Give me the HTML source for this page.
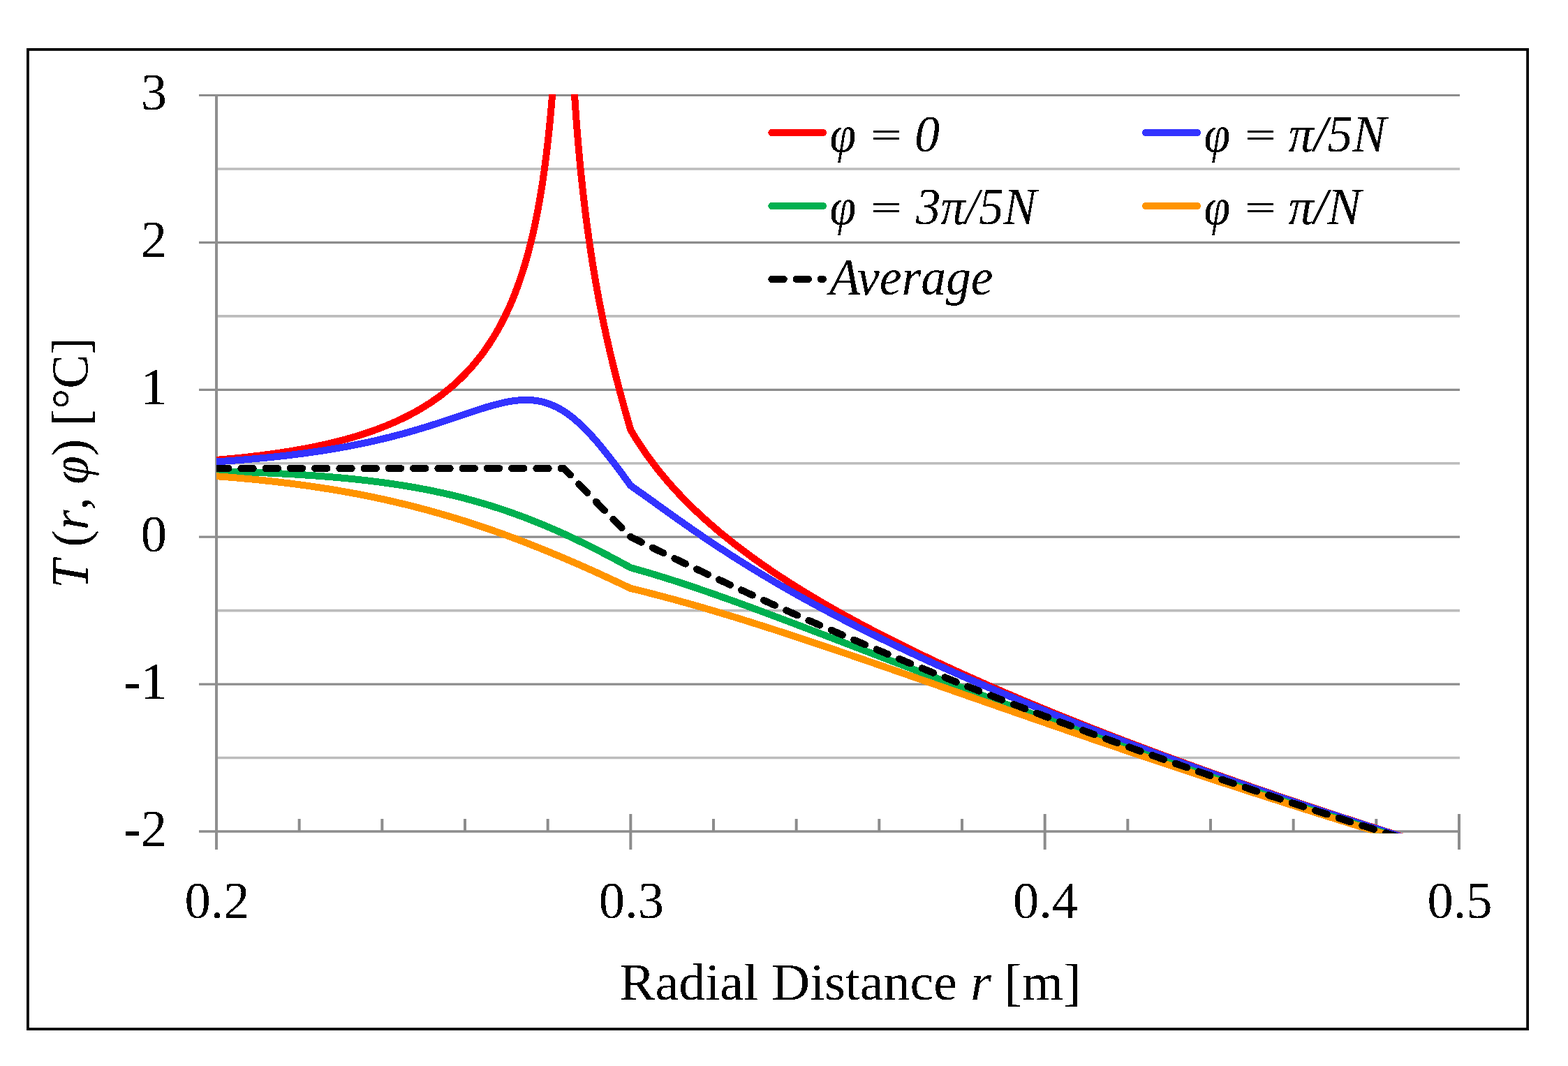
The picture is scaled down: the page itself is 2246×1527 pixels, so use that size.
<!DOCTYPE html><html><head><meta charset="utf-8"><style>html,body{margin:0;padding:0;background:#fff;}svg{display:block}</style></head><body>
<svg width="2246" height="1527" viewBox="0 0 2246 1527">
<rect width="2246" height="1527" fill="#fff"/>
<defs><filter id="bin" x="0" y="0" width="2246" height="1527" filterUnits="userSpaceOnUse" color-interpolation-filters="sRGB"><feComponentTransfer><feFuncA type="discrete" tableValues="0 1"/></feComponentTransfer></filter><clipPath id="pc"><rect x="310" y="135" width="1782" height="1058.5"/></clipPath></defs>
<line x1="310" x2="2091" y1="241.95" y2="241.95" stroke="#bcbcbc" stroke-width="3.6"/>
<line x1="310" x2="2091" y1="452.85" y2="452.85" stroke="#bcbcbc" stroke-width="3.6"/>
<line x1="310" x2="2091" y1="663.75" y2="663.75" stroke="#bcbcbc" stroke-width="3.6"/>
<line x1="310" x2="2091" y1="874.65" y2="874.65" stroke="#bcbcbc" stroke-width="3.6"/>
<line x1="310" x2="2091" y1="1085.55" y2="1085.55" stroke="#bcbcbc" stroke-width="3.6"/>
<line x1="285" x2="2091" y1="136.50" y2="136.50" stroke="#8c8c8c" stroke-width="3.2"/>
<line x1="285" x2="2091" y1="347.40" y2="347.40" stroke="#8c8c8c" stroke-width="3.2"/>
<line x1="285" x2="2091" y1="558.30" y2="558.30" stroke="#8c8c8c" stroke-width="3.2"/>
<line x1="285" x2="2091" y1="769.20" y2="769.20" stroke="#8c8c8c" stroke-width="3.2"/>
<line x1="285" x2="2091" y1="980.10" y2="980.10" stroke="#8c8c8c" stroke-width="3.2"/>
<line x1="285" x2="2092" y1="1191" y2="1191" stroke="#8c8c8c" stroke-width="3.7"/>
<line x1="310" x2="310" y1="135" y2="1217" stroke="#8f8f8f" stroke-width="4"/>
<line x1="428.67" x2="428.67" y1="1173" y2="1191" stroke="#8c8c8c" stroke-width="4"/>
<line x1="547.33" x2="547.33" y1="1173" y2="1191" stroke="#8c8c8c" stroke-width="4"/>
<line x1="666.00" x2="666.00" y1="1173" y2="1191" stroke="#8c8c8c" stroke-width="4"/>
<line x1="784.67" x2="784.67" y1="1173" y2="1191" stroke="#8c8c8c" stroke-width="4"/>
<line x1="903.33" x2="903.33" y1="1166" y2="1217" stroke="#8c8c8c" stroke-width="4"/>
<line x1="1022.00" x2="1022.00" y1="1173" y2="1191" stroke="#8c8c8c" stroke-width="4"/>
<line x1="1140.67" x2="1140.67" y1="1173" y2="1191" stroke="#8c8c8c" stroke-width="4"/>
<line x1="1259.33" x2="1259.33" y1="1173" y2="1191" stroke="#8c8c8c" stroke-width="4"/>
<line x1="1378.00" x2="1378.00" y1="1173" y2="1191" stroke="#8c8c8c" stroke-width="4"/>
<line x1="1496.67" x2="1496.67" y1="1166" y2="1217" stroke="#8c8c8c" stroke-width="4"/>
<line x1="1615.33" x2="1615.33" y1="1173" y2="1191" stroke="#8c8c8c" stroke-width="4"/>
<line x1="1734.00" x2="1734.00" y1="1173" y2="1191" stroke="#8c8c8c" stroke-width="4"/>
<line x1="1852.67" x2="1852.67" y1="1173" y2="1191" stroke="#8c8c8c" stroke-width="4"/>
<line x1="1971.33" x2="1971.33" y1="1173" y2="1191" stroke="#8c8c8c" stroke-width="4"/>
<line x1="2090.00" x2="2090.00" y1="1166" y2="1217" stroke="#8c8c8c" stroke-width="4"/>
<g clip-path="url(#pc)" fill="none" stroke-width="10" stroke-linejoin="round" stroke-linecap="butt" shape-rendering="crispEdges">
<path d="M310.00 658.89 L312.37 658.69 L314.75 658.48 L317.12 658.28 L319.49 658.07 L321.87 657.85 L324.24 657.64 L326.61 657.42 L328.99 657.19 L331.36 656.97 L333.73 656.74 L336.11 656.50 L338.48 656.26 L340.85 656.02 L343.23 655.78 L345.60 655.53 L347.97 655.28 L350.35 655.02 L352.72 654.76 L355.09 654.50 L357.47 654.23 L359.84 653.96 L362.21 653.69 L364.59 653.41 L366.96 653.12 L369.33 652.84 L371.71 652.54 L374.08 652.25 L376.45 651.95 L378.83 651.64 L381.20 651.33 L383.57 651.01 L385.95 650.69 L388.32 650.37 L390.69 650.04 L393.07 649.70 L395.44 649.36 L397.81 649.02 L400.19 648.67 L402.56 648.31 L404.93 647.95 L407.31 647.59 L409.68 647.22 L412.05 646.84 L414.43 646.46 L416.80 646.07 L419.17 645.67 L421.55 645.27 L423.92 644.87 L426.29 644.45 L428.67 644.03 L431.04 643.61 L433.41 643.18 L435.79 642.74 L438.16 642.29 L440.53 641.84 L442.91 641.38 L445.28 640.91 L447.65 640.44 L450.03 639.96 L452.40 639.47 L454.77 638.98 L457.15 638.47 L459.52 637.96 L461.89 637.44 L464.27 636.92 L466.64 636.38 L469.01 635.84 L471.39 635.29 L473.76 634.73 L476.13 634.16 L478.51 633.58 L480.88 633.00 L483.25 632.40 L485.63 631.80 L488.00 631.18 L490.37 630.56 L492.75 629.92 L495.12 629.28 L497.49 628.62 L499.87 627.96 L502.24 627.28 L504.61 626.60 L506.99 625.90 L509.36 625.19 L511.73 624.47 L514.11 623.74 L516.48 623.00 L518.85 622.24 L521.23 621.47 L523.60 620.69 L525.97 619.90 L528.35 619.10 L530.72 618.28 L533.09 617.45 L535.47 616.60 L537.84 615.74 L540.21 614.86 L542.59 613.97 L544.96 613.07 L547.33 612.15 L549.71 611.22 L552.08 610.27 L554.45 609.30 L556.83 608.32 L559.20 607.31 L561.57 606.30 L563.95 605.26 L566.32 604.21 L568.69 603.14 L571.07 602.05 L573.44 600.94 L575.81 599.81 L578.19 598.66 L580.56 597.49 L582.93 596.30 L585.31 595.08 L587.68 593.85 L590.05 592.59 L592.43 591.31 L594.80 590.01 L597.17 588.68 L599.55 587.32 L601.92 585.94 L604.29 584.54 L606.67 583.11 L609.04 581.65 L611.41 580.16 L613.79 578.64 L616.16 577.10 L618.53 575.52 L620.91 573.91 L623.28 572.27 L625.65 570.60 L628.03 568.89 L630.40 567.15 L632.77 565.37 L635.15 563.55 L637.52 561.70 L639.89 559.81 L642.27 557.87 L644.64 555.90 L647.01 553.88 L649.39 551.82 L651.76 549.71 L654.13 547.55 L656.51 545.35 L658.88 543.09 L661.25 540.78 L663.63 538.42 L666.00 536.01 L668.37 533.53 L670.75 530.99 L673.12 528.40 L675.49 525.73 L677.87 523.01 L680.24 520.21 L682.61 517.34 L684.99 514.39 L687.36 511.36 L689.73 508.26 L692.11 505.07 L694.48 501.79 L696.85 498.42 L699.23 494.95 L701.60 491.38 L703.97 487.70 L706.35 483.92 L708.72 480.02 L711.09 475.99 L713.47 471.84 L715.84 467.55 L718.21 463.12 L720.59 458.54 L722.96 453.80 L725.33 448.89 L727.71 443.81 L730.08 438.53 L732.45 433.06 L734.83 427.37 L737.20 421.45 L739.57 415.29 L741.95 408.87 L744.32 402.16 L746.69 395.15 L749.07 387.81 L751.44 380.12 L753.81 372.03 L756.19 363.53 L758.56 354.57 L760.93 345.09 L763.31 335.06 L765.68 324.40 L768.05 313.04 L770.43 300.90 L772.80 287.87 L775.17 273.83 L777.55 258.62 L779.92 242.05 L782.29 223.89 L784.13 208.51 L784.43 205.91 L784.67 203.80 L784.73 203.27 L785.02 200.60 L785.32 197.89 L785.62 195.15 L785.91 192.36 L786.21 189.53 L786.51 186.66 L786.80 183.75 L787.04 181.39 L787.10 180.80 L787.40 177.80 L787.69 174.75 L787.99 171.65 L788.29 168.51 L788.58 165.31 L788.88 162.06 L789.18 158.76 L789.41 156.08 L789.47 155.40 L789.77 151.99 L790.07 148.51 L790.36 144.98 L790.66 141.37 L790.96 137.71 L791.25 133.97 L791.55 130.17 L791.79 127.07 L791.85 126.29 L792.14 122.33 L792.44 118.30 L792.74 114.18 L793.03 109.98 L793.33 105.69 L793.63 101.30 L793.92 96.82 L794.16 93.17 L794.22 92.24 L794.52 87.56 L794.81 82.76 L795.11 77.85 L795.41 72.82 L795.70 67.67 L796.00 62.38 L796.30 56.95 L796.53 52.51 L796.59 51.38 L796.89 45.65 L797.19 39.76 L797.48 33.70 L797.78 27.46 L798.08 21.02 L798.37 14.39 L805.87 -400.00 L809.87 -400.00L816.77 13.07 L817.06 20.58 L817.36 27.86 L817.66 34.92 L817.89 40.42 L817.95 41.78 L818.25 48.44 L818.55 54.92 L818.84 61.23 L819.14 67.38 L819.44 73.38 L819.73 79.23 L820.03 84.94 L820.27 89.41 L820.33 90.51 L820.62 95.97 L820.92 101.30 L821.22 106.52 L821.51 111.62 L821.81 116.62 L822.11 121.53 L822.40 126.33 L822.64 130.11 L822.70 131.05 L823.00 135.67 L823.29 140.21 L823.59 144.67 L823.89 149.04 L824.18 153.35 L824.48 157.57 L824.78 161.73 L825.01 165.01 L825.07 165.82 L825.37 169.85 L825.67 173.81 L825.96 177.70 L826.26 181.54 L826.56 185.32 L826.85 189.05 L827.15 192.72 L827.39 195.62 L827.45 196.34 L827.74 199.91 L828.04 203.43 L828.34 206.90 L828.63 210.32 L828.93 213.70 L829.23 217.03 L829.52 220.33 L829.76 222.93 L829.82 223.58 L830.12 226.79 L830.41 229.96 L830.71 233.09 L831.01 236.19 L831.30 239.25 L831.60 242.27 L832.13 247.63 L834.51 270.20 L836.88 291.02 L839.25 310.36 L841.63 328.44 L844.00 345.43 L846.37 361.48 L848.75 376.70 L851.12 391.18 L853.49 405.01 L855.87 418.26 L858.24 430.99 L860.61 443.24 L862.99 455.06 L865.36 466.48 L867.73 477.55 L870.11 488.30 L872.48 498.74 L874.85 508.91 L877.23 518.82 L879.60 528.50 L881.97 537.96 L884.35 547.22 L886.72 556.30 L889.09 565.20 L891.47 573.95 L893.84 582.55 L896.21 591.02 L898.59 599.36 L900.96 607.59 L903.33 615.71 L903.33 615.71 L905.71 619.72 L908.08 623.64 L910.45 627.47 L912.83 631.23 L915.20 634.92 L917.57 638.53 L919.95 642.08 L922.32 645.55 L924.69 648.97 L927.07 652.32 L929.44 655.62 L931.81 658.86 L934.19 662.05 L936.56 665.18 L938.93 668.27 L941.31 671.31 L943.68 674.30 L946.05 677.24 L948.43 680.15 L950.80 683.01 L953.17 685.83 L955.55 688.61 L957.92 691.36 L960.29 694.07 L962.67 696.74 L965.04 699.38 L967.41 701.99 L969.79 704.56 L972.16 707.11 L974.53 709.62 L976.91 712.10 L979.28 714.56 L981.65 716.99 L984.03 719.39 L986.40 721.76 L988.77 724.11 L991.15 726.43 L993.52 728.73 L995.89 731.01 L998.27 733.26 L1000.64 735.49 L1003.01 737.70 L1005.39 739.89 L1007.76 742.05 L1010.13 744.20 L1012.51 746.33 L1014.88 748.43 L1017.25 750.52 L1019.63 752.59 L1022.00 754.64 L1024.37 756.68 L1026.75 758.70 L1029.12 760.70 L1031.49 762.68 L1033.87 764.65 L1036.24 766.60 L1038.61 768.54 L1040.99 770.46 L1043.36 772.36 L1045.73 774.26 L1048.11 776.13 L1050.48 778.00 L1052.85 779.85 L1055.23 781.69 L1057.60 783.51 L1059.97 785.32 L1062.35 787.12 L1064.72 788.91 L1067.09 790.68 L1069.47 792.44 L1071.84 794.20 L1074.21 795.94 L1076.59 797.66 L1078.96 799.38 L1081.33 801.09 L1083.71 802.78 L1086.08 804.47 L1088.45 806.14 L1090.83 807.81 L1093.20 809.46 L1095.57 811.11 L1097.95 812.74 L1100.32 814.37 L1102.69 815.99 L1105.07 817.60 L1107.44 819.20 L1109.81 820.79 L1112.19 822.37 L1114.56 823.94 L1116.93 825.50 L1119.31 827.06 L1121.68 828.61 L1124.05 830.15 L1126.43 831.68 L1128.80 833.21 L1131.17 834.72 L1133.55 836.23 L1135.92 837.74 L1138.29 839.23 L1140.67 840.72 L1143.04 842.20 L1145.41 843.67 L1147.79 845.14 L1150.16 846.60 L1152.53 848.05 L1154.91 849.50 L1157.28 850.94 L1159.65 852.37 L1162.03 853.80 L1164.40 855.22 L1166.77 856.64 L1169.15 858.04 L1171.52 859.45 L1173.89 860.84 L1176.27 862.24 L1178.64 863.62 L1181.01 865.00 L1183.39 866.38 L1185.76 867.74 L1188.13 869.11 L1190.51 870.47 L1192.88 871.82 L1195.25 873.17 L1197.63 874.51 L1200.00 875.84 L1202.37 877.18 L1204.75 878.50 L1207.12 879.83 L1209.49 881.14 L1211.87 882.46 L1214.24 883.76 L1216.61 885.07 L1218.99 886.36 L1221.36 887.66 L1223.73 888.95 L1226.11 890.23 L1228.48 891.51 L1230.85 892.79 L1233.23 894.06 L1235.60 895.33 L1237.97 896.59 L1240.35 897.85 L1242.72 899.10 L1245.09 900.35 L1247.47 901.60 L1249.84 902.84 L1252.21 904.08 L1254.59 905.32 L1256.96 906.55 L1259.33 907.77 L1261.71 909.00 L1264.08 910.22 L1266.45 911.43 L1268.83 912.64 L1271.20 913.85 L1273.57 915.06 L1275.95 916.26 L1278.32 917.46 L1280.69 918.65 L1283.07 919.84 L1285.44 921.03 L1287.81 922.21 L1290.19 923.39 L1292.56 924.57 L1294.93 925.74 L1297.31 926.92 L1299.68 928.08 L1302.05 929.25 L1304.43 930.41 L1306.80 931.57 L1309.17 932.72 L1311.55 933.87 L1313.92 935.02 L1316.29 936.17 L1318.67 937.31 L1321.04 938.45 L1323.41 939.59 L1325.79 940.72 L1328.16 941.85 L1330.53 942.98 L1332.91 944.11 L1335.28 945.23 L1337.65 946.35 L1340.03 947.47 L1342.40 948.58 L1344.77 949.69 L1347.15 950.80 L1349.52 951.91 L1351.89 953.01 L1354.27 954.11 L1356.64 955.21 L1359.01 956.31 L1361.39 957.40 L1363.76 958.49 L1366.13 959.58 L1368.51 960.66 L1370.88 961.75 L1373.25 962.83 L1375.63 963.91 L1378.00 964.98 L1380.37 966.06 L1382.75 967.13 L1385.12 968.20 L1387.49 969.26 L1389.87 970.33 L1392.24 971.39 L1394.61 972.45 L1396.99 973.51 L1399.36 974.56 L1401.73 975.62 L1404.11 976.67 L1406.48 977.72 L1408.85 978.76 L1411.23 979.81 L1413.60 980.85 L1415.97 981.89 L1418.35 982.93 L1420.72 983.96 L1423.09 985.00 L1425.47 986.03 L1427.84 987.06 L1430.21 988.09 L1432.59 989.11 L1434.96 990.14 L1437.33 991.16 L1439.71 992.18 L1442.08 993.19 L1444.45 994.21 L1446.83 995.22 L1449.20 996.24 L1451.57 997.25 L1453.95 998.25 L1456.32 999.26 L1458.69 1000.26 L1461.07 1001.27 L1463.44 1002.27 L1465.81 1003.27 L1468.19 1004.26 L1470.56 1005.26 L1472.93 1006.25 L1475.31 1007.24 L1477.68 1008.23 L1480.05 1009.22 L1482.43 1010.21 L1484.80 1011.19 L1487.17 1012.17 L1489.55 1013.16 L1491.92 1014.13 L1494.29 1015.11 L1496.67 1016.09 L1499.04 1017.06 L1501.41 1018.04 L1503.79 1019.01 L1506.16 1019.98 L1508.53 1020.94 L1510.91 1021.91 L1513.28 1022.87 L1515.65 1023.84 L1518.03 1024.80 L1520.40 1025.76 L1522.77 1026.72 L1525.15 1027.67 L1527.52 1028.63 L1529.89 1029.58 L1532.27 1030.53 L1534.64 1031.48 L1537.01 1032.43 L1539.39 1033.38 L1541.76 1034.33 L1544.13 1035.27 L1546.51 1036.21 L1548.88 1037.15 L1551.25 1038.09 L1553.63 1039.03 L1556.00 1039.97 L1558.37 1040.90 L1560.75 1041.84 L1563.12 1042.77 L1565.49 1043.70 L1567.87 1044.63 L1570.24 1045.56 L1572.61 1046.49 L1574.99 1047.41 L1577.36 1048.34 L1579.73 1049.26 L1582.11 1050.18 L1584.48 1051.10 L1586.85 1052.02 L1589.23 1052.94 L1591.60 1053.85 L1593.97 1054.77 L1596.35 1055.68 L1598.72 1056.59 L1601.09 1057.51 L1603.47 1058.41 L1605.84 1059.32 L1608.21 1060.23 L1610.59 1061.14 L1612.96 1062.04 L1615.33 1062.94 L1617.71 1063.84 L1620.08 1064.74 L1622.45 1065.64 L1624.83 1066.54 L1627.20 1067.44 L1629.57 1068.33 L1631.95 1069.23 L1634.32 1070.12 L1636.69 1071.01 L1639.07 1071.90 L1641.44 1072.79 L1643.81 1073.68 L1646.19 1074.57 L1648.56 1075.45 L1650.93 1076.34 L1653.31 1077.22 L1655.68 1078.10 L1658.05 1078.99 L1660.43 1079.86 L1662.80 1080.74 L1665.17 1081.62 L1667.55 1082.50 L1669.92 1083.37 L1672.29 1084.25 L1674.67 1085.12 L1677.04 1085.99 L1679.41 1086.86 L1681.79 1087.73 L1684.16 1088.60 L1686.53 1089.47 L1688.91 1090.33 L1691.28 1091.20 L1693.65 1092.06 L1696.03 1092.93 L1698.40 1093.79 L1700.77 1094.65 L1703.15 1095.51 L1705.52 1096.37 L1707.89 1097.22 L1710.27 1098.08 L1712.64 1098.94 L1715.01 1099.79 L1717.39 1100.64 L1719.76 1101.50 L1722.13 1102.35 L1724.51 1103.20 L1726.88 1104.05 L1729.25 1104.90 L1731.63 1105.74 L1734.00 1106.59 L1736.37 1107.43 L1738.75 1108.28 L1741.12 1109.12 L1743.49 1109.96 L1745.87 1110.80 L1748.24 1111.64 L1750.61 1112.48 L1752.99 1113.32 L1755.36 1114.16 L1757.73 1114.99 L1760.11 1115.83 L1762.48 1116.66 L1764.85 1117.50 L1767.23 1118.33 L1769.60 1119.16 L1771.97 1119.99 L1774.35 1120.82 L1776.72 1121.65 L1779.09 1122.47 L1781.47 1123.30 L1783.84 1124.13 L1786.21 1124.95 L1788.59 1125.77 L1790.96 1126.60 L1793.33 1127.42 L1795.71 1128.24 L1798.08 1129.06 L1800.45 1129.88 L1802.83 1130.70 L1805.20 1131.51 L1807.57 1132.33 L1809.95 1133.15 L1812.32 1133.96 L1814.69 1134.77 L1817.07 1135.59 L1819.44 1136.40 L1821.81 1137.21 L1824.19 1138.02 L1826.56 1138.83 L1828.93 1139.63 L1831.31 1140.44 L1833.68 1141.25 L1836.05 1142.05 L1838.43 1142.86 L1840.80 1143.66 L1843.17 1144.47 L1845.55 1145.27 L1847.92 1146.07 L1850.29 1146.87 L1852.67 1147.67 L1855.04 1148.47 L1857.41 1149.26 L1859.79 1150.06 L1862.16 1150.86 L1864.53 1151.65 L1866.91 1152.45 L1869.28 1153.24 L1871.65 1154.03 L1874.03 1154.82 L1876.40 1155.62 L1878.77 1156.41 L1881.15 1157.20 L1883.52 1157.98 L1885.89 1158.77 L1888.27 1159.56 L1890.64 1160.34 L1893.01 1161.13 L1895.39 1161.91 L1897.76 1162.70 L1900.13 1163.48 L1902.51 1164.26 L1904.88 1165.04 L1907.25 1165.82 L1909.63 1166.60 L1912.00 1167.38 L1914.37 1168.16 L1916.75 1168.94 L1919.12 1169.72 L1921.49 1170.49 L1923.87 1171.27 L1926.24 1172.04 L1928.61 1172.81 L1930.99 1173.59 L1933.36 1174.36 L1935.73 1175.13 L1938.11 1175.90 L1940.48 1176.67 L1942.85 1177.44 L1945.23 1178.21 L1947.60 1178.97 L1949.97 1179.74 L1952.35 1180.51 L1954.72 1181.27 L1957.09 1182.04 L1959.47 1182.80 L1961.84 1183.56 L1964.21 1184.32 L1966.59 1185.08 L1968.96 1185.85 L1971.33 1186.61 L1973.71 1187.36 L1976.08 1188.12 L1978.45 1188.88 L1980.83 1189.64 L1983.20 1190.39 L1985.57 1191.15 L1987.95 1191.90 L1990.32 1192.66 L1992.69 1193.41 L1995.07 1194.16 L1997.44 1194.92 L1999.81 1195.67 L2002.19 1196.42 L2004.56 1197.17 L2006.93 1197.92 L2009.31 1198.66 L2011.68 1199.41 L2014.05 1200.16 L2016.43 1200.90 L2018.80 1201.65 L2021.17 1202.39 L2023.55 1203.14 L2025.92 1203.88 L2028.29 1204.63 L2030.67 1205.37 L2033.04 1206.11 L2035.41 1206.85 L2037.79 1207.59 L2040.16 1208.33 L2042.53 1209.07 L2044.91 1209.80 L2047.28 1210.54 L2049.65 1211.28 L2052.03 1212.01 L2054.40 1212.75 L2056.77 1213.48 L2059.15 1214.22 L2061.52 1214.95 L2063.89 1215.68 L2066.27 1216.42 L2068.64 1217.15 L2071.01 1217.88 L2073.39 1218.61 L2075.76 1219.34 L2078.13 1220.07 L2080.51 1220.79 L2082.88 1221.52 L2085.25 1222.25 L2087.63 1222.97 L2090.00 1223.70" stroke="#FF0000"/>
<path d="M310.00 661.40 L312.37 661.24 L314.75 661.09 L317.12 660.93 L319.49 660.76 L321.87 660.60 L324.24 660.43 L326.61 660.26 L328.99 660.09 L331.36 659.92 L333.73 659.74 L336.11 659.56 L338.48 659.38 L340.85 659.20 L343.23 659.01 L345.60 658.82 L347.97 658.63 L350.35 658.43 L352.72 658.24 L355.09 658.04 L357.47 657.83 L359.84 657.63 L362.21 657.42 L364.59 657.21 L366.96 656.99 L369.33 656.78 L371.71 656.56 L374.08 656.33 L376.45 656.11 L378.83 655.88 L381.20 655.64 L383.57 655.41 L385.95 655.17 L388.32 654.93 L390.69 654.68 L393.07 654.43 L395.44 654.18 L397.81 653.92 L400.19 653.66 L402.56 653.40 L404.93 653.13 L407.31 652.86 L409.68 652.59 L412.05 652.31 L414.43 652.03 L416.80 651.74 L419.17 651.46 L421.55 651.16 L423.92 650.87 L426.29 650.57 L428.67 650.26 L431.04 649.95 L433.41 649.64 L435.79 649.32 L438.16 649.00 L440.53 648.68 L442.91 648.35 L445.28 648.02 L447.65 647.68 L450.03 647.34 L452.40 646.99 L454.77 646.64 L457.15 646.28 L459.52 645.92 L461.89 645.56 L464.27 645.19 L466.64 644.81 L469.01 644.43 L471.39 644.05 L473.76 643.66 L476.13 643.26 L478.51 642.87 L480.88 642.46 L483.25 642.05 L485.63 641.64 L488.00 641.22 L490.37 640.79 L492.75 640.36 L495.12 639.93 L497.49 639.49 L499.87 639.04 L502.24 638.59 L504.61 638.13 L506.99 637.67 L509.36 637.20 L511.73 636.73 L514.11 636.25 L516.48 635.76 L518.85 635.27 L521.23 634.77 L523.60 634.27 L525.97 633.76 L528.35 633.25 L530.72 632.73 L533.09 632.20 L535.47 631.67 L537.84 631.13 L540.21 630.58 L542.59 630.03 L544.96 629.47 L547.33 628.91 L549.71 628.34 L552.08 627.76 L554.45 627.18 L556.83 626.59 L559.20 625.99 L561.57 625.39 L563.95 624.78 L566.32 624.17 L568.69 623.54 L571.07 622.92 L573.44 622.28 L575.81 621.64 L578.19 620.99 L580.56 620.34 L582.93 619.68 L585.31 619.01 L587.68 618.34 L590.05 617.66 L592.43 616.98 L594.80 616.29 L597.17 615.59 L599.55 614.88 L601.92 614.17 L604.29 613.46 L606.67 612.74 L609.04 612.01 L611.41 611.28 L613.79 610.54 L616.16 609.79 L618.53 609.04 L620.91 608.29 L623.28 607.53 L625.65 606.77 L628.03 606.00 L630.40 605.23 L632.77 604.45 L635.15 603.67 L637.52 602.88 L639.89 602.09 L642.27 601.30 L644.64 600.51 L647.01 599.71 L649.39 598.92 L651.76 598.12 L654.13 597.31 L656.51 596.51 L658.88 595.71 L661.25 594.91 L663.63 594.10 L666.00 593.30 L668.37 592.51 L670.75 591.71 L673.12 590.91 L675.49 590.12 L677.87 589.34 L680.24 588.56 L682.61 587.78 L684.99 587.01 L687.36 586.25 L689.73 585.50 L692.11 584.76 L694.48 584.03 L696.85 583.31 L699.23 582.60 L701.60 581.90 L703.97 581.22 L706.35 580.56 L708.72 579.91 L711.09 579.29 L713.47 578.68 L715.84 578.09 L718.21 577.53 L720.59 576.99 L722.96 576.48 L725.33 575.99 L727.71 575.53 L730.08 575.11 L732.45 574.71 L734.83 574.36 L737.20 574.03 L739.57 573.75 L741.95 573.50 L744.32 573.30 L746.69 573.14 L749.07 573.03 L751.44 572.96 L753.81 572.94 L756.19 572.97 L758.56 573.06 L760.93 573.20 L763.31 573.39 L765.68 573.65 L768.05 573.96 L770.43 574.34 L772.80 574.78 L775.17 575.28 L777.55 575.85 L779.92 576.48 L782.29 577.19 L784.13 577.78 L784.43 577.88 L784.67 577.96 L784.73 577.98 L785.02 578.08 L785.32 578.19 L785.62 578.29 L785.91 578.40 L786.21 578.50 L786.51 578.61 L786.80 578.72 L787.04 578.81 L787.10 578.83 L787.40 578.94 L787.69 579.05 L787.99 579.16 L788.29 579.28 L788.58 579.39 L788.88 579.51 L789.18 579.63 L789.41 579.72 L789.47 579.74 L789.77 579.86 L790.07 579.99 L790.36 580.11 L790.66 580.23 L790.96 580.36 L791.25 580.48 L791.55 580.61 L791.79 580.71 L791.85 580.73 L792.14 580.86 L792.44 580.99 L792.74 581.12 L793.03 581.26 L793.33 581.39 L793.63 581.52 L793.92 581.66 L794.16 581.77 L794.22 581.80 L794.52 581.94 L794.81 582.07 L795.11 582.21 L795.41 582.36 L795.70 582.50 L796.00 582.64 L796.30 582.79 L796.53 582.90 L796.59 582.93 L796.89 583.08 L797.19 583.23 L797.48 583.38 L797.78 583.53 L798.08 583.68 L798.37 583.83 L798.67 583.99 L798.91 584.11 L798.97 584.14 L799.26 584.30 L799.56 584.46 L799.86 584.62 L800.15 584.78 L800.45 584.94 L800.75 585.10 L801.04 585.26 L801.28 585.39 L801.34 585.43 L801.64 585.59 L801.93 585.76 L802.23 585.93 L802.53 586.10 L802.82 586.27 L803.12 586.44 L803.42 586.61 L803.65 586.75 L803.71 586.79 L804.01 586.96 L804.31 587.14 L804.60 587.31 L804.90 587.49 L805.20 587.67 L805.49 587.85 L805.79 588.03 L806.03 588.18 L806.09 588.22 L806.38 588.40 L806.68 588.58 L806.98 588.76 L807.27 588.93 L807.57 589.07 L807.87 589.16 L808.16 589.45 L808.40 589.64 L808.46 589.69 L808.76 589.90 L809.05 590.10 L809.35 590.30 L809.65 590.50 L809.94 590.70 L810.24 590.90 L810.54 591.10 L810.77 591.26 L810.83 591.30 L811.13 591.51 L811.43 591.71 L811.72 591.91 L812.02 592.12 L812.32 592.33 L812.61 592.54 L812.91 592.74 L813.15 592.91 L813.21 592.96 L813.50 593.17 L813.80 593.38 L814.10 593.59 L814.39 593.81 L814.69 594.02 L814.99 594.24 L815.28 594.46 L815.52 594.64 L815.58 594.68 L815.88 594.90 L816.17 595.12 L816.47 595.35 L816.77 595.57 L817.06 595.79 L817.36 596.02 L817.66 596.25 L817.89 596.43 L817.95 596.48 L818.25 596.71 L818.55 596.94 L818.84 597.17 L819.14 597.40 L819.44 597.64 L819.73 597.87 L820.03 598.11 L820.27 598.30 L820.33 598.34 L820.62 598.58 L820.92 598.82 L821.22 599.06 L821.51 599.30 L821.81 599.55 L822.11 599.79 L822.40 600.04 L822.64 600.23 L822.70 600.28 L823.00 600.53 L823.29 600.78 L823.59 601.03 L823.89 601.28 L824.18 601.53 L824.48 601.78 L824.78 602.03 L825.01 602.24 L825.07 602.29 L825.37 602.54 L825.67 602.80 L825.96 603.06 L826.26 603.32 L826.56 603.58 L826.85 603.84 L827.15 604.10 L827.39 604.31 L827.45 604.36 L827.74 604.63 L828.04 604.89 L828.34 605.16 L828.63 605.42 L828.93 605.69 L829.23 605.96 L829.52 606.23 L829.76 606.45 L829.82 606.50 L830.12 606.78 L830.41 607.05 L830.71 607.32 L831.01 607.60 L831.30 607.87 L831.60 608.15 L832.13 608.65 L834.51 610.92 L836.88 613.25 L839.25 615.64 L841.63 618.08 L844.00 620.58 L846.37 623.14 L848.75 625.75 L851.12 628.41 L853.49 631.12 L855.87 633.88 L858.24 636.68 L860.61 639.52 L862.99 642.41 L865.36 645.33 L867.73 648.29 L870.11 651.28 L872.48 654.30 L874.85 657.36 L877.23 660.44 L879.60 663.55 L881.97 666.69 L884.35 669.84 L886.72 673.02 L889.09 676.22 L891.47 679.43 L893.84 682.66 L896.21 685.90 L898.59 689.15 L900.96 692.41 L903.33 695.68 L903.33 695.68 L905.71 697.33 L908.08 698.99 L910.45 700.65 L912.83 702.32 L915.20 704.00 L917.57 705.68 L919.95 707.37 L922.32 709.06 L924.69 710.76 L927.07 712.45 L929.44 714.15 L931.81 715.86 L934.19 717.56 L936.56 719.26 L938.93 720.97 L941.31 722.67 L943.68 724.38 L946.05 726.08 L948.43 727.78 L950.80 729.49 L953.17 731.19 L955.55 732.88 L957.92 734.58 L960.29 736.27 L962.67 737.97 L965.04 739.65 L967.41 741.34 L969.79 743.02 L972.16 744.70 L974.53 746.37 L976.91 748.05 L979.28 749.71 L981.65 751.38 L984.03 753.03 L986.40 754.69 L988.77 756.34 L991.15 757.98 L993.52 759.63 L995.89 761.26 L998.27 762.89 L1000.64 764.52 L1003.01 766.14 L1005.39 767.76 L1007.76 769.37 L1010.13 770.97 L1012.51 772.58 L1014.88 774.17 L1017.25 775.76 L1019.63 777.35 L1022.00 778.93 L1024.37 780.50 L1026.75 782.07 L1029.12 783.64 L1031.49 785.20 L1033.87 786.75 L1036.24 788.30 L1038.61 789.84 L1040.99 791.38 L1043.36 792.91 L1045.73 794.44 L1048.11 795.96 L1050.48 797.48 L1052.85 798.99 L1055.23 800.50 L1057.60 802.00 L1059.97 803.49 L1062.35 804.98 L1064.72 806.47 L1067.09 807.95 L1069.47 809.42 L1071.84 810.89 L1074.21 812.36 L1076.59 813.82 L1078.96 815.27 L1081.33 816.72 L1083.71 818.17 L1086.08 819.61 L1088.45 821.04 L1090.83 822.47 L1093.20 823.90 L1095.57 825.32 L1097.95 826.73 L1100.32 828.14 L1102.69 829.55 L1105.07 830.95 L1107.44 832.34 L1109.81 833.74 L1112.19 835.12 L1114.56 836.51 L1116.93 837.88 L1119.31 839.26 L1121.68 840.63 L1124.05 841.99 L1126.43 843.35 L1128.80 844.71 L1131.17 846.06 L1133.55 847.40 L1135.92 848.75 L1138.29 850.09 L1140.67 851.42 L1143.04 852.75 L1145.41 854.08 L1147.79 855.40 L1150.16 856.72 L1152.53 858.03 L1154.91 859.34 L1157.28 860.64 L1159.65 861.95 L1162.03 863.24 L1164.40 864.54 L1166.77 865.83 L1169.15 867.11 L1171.52 868.40 L1173.89 869.67 L1176.27 870.95 L1178.64 872.22 L1181.01 873.49 L1183.39 874.75 L1185.76 876.01 L1188.13 877.27 L1190.51 878.52 L1192.88 879.77 L1195.25 881.02 L1197.63 882.26 L1200.00 883.50 L1202.37 884.73 L1204.75 885.97 L1207.12 887.20 L1209.49 888.42 L1211.87 889.64 L1214.24 890.86 L1216.61 892.08 L1218.99 893.29 L1221.36 894.50 L1223.73 895.70 L1226.11 896.91 L1228.48 898.11 L1230.85 899.30 L1233.23 900.50 L1235.60 901.69 L1237.97 902.88 L1240.35 904.06 L1242.72 905.24 L1245.09 906.42 L1247.47 907.59 L1249.84 908.77 L1252.21 909.94 L1254.59 911.10 L1256.96 912.27 L1259.33 913.43 L1261.71 914.59 L1264.08 915.74 L1266.45 916.89 L1268.83 918.04 L1271.20 919.19 L1273.57 920.34 L1275.95 921.48 L1278.32 922.62 L1280.69 923.75 L1283.07 924.89 L1285.44 926.02 L1287.81 927.15 L1290.19 928.27 L1292.56 929.40 L1294.93 930.52 L1297.31 931.64 L1299.68 932.75 L1302.05 933.87 L1304.43 934.98 L1306.80 936.09 L1309.17 937.19 L1311.55 938.30 L1313.92 939.40 L1316.29 940.50 L1318.67 941.59 L1321.04 942.69 L1323.41 943.78 L1325.79 944.87 L1328.16 945.96 L1330.53 947.04 L1332.91 948.12 L1335.28 949.21 L1337.65 950.28 L1340.03 951.36 L1342.40 952.43 L1344.77 953.51 L1347.15 954.58 L1349.52 955.64 L1351.89 956.71 L1354.27 957.77 L1356.64 958.83 L1359.01 959.89 L1361.39 960.95 L1363.76 962.00 L1366.13 963.06 L1368.51 964.11 L1370.88 965.16 L1373.25 966.20 L1375.63 967.25 L1378.00 968.29 L1380.37 969.33 L1382.75 970.37 L1385.12 971.41 L1387.49 972.44 L1389.87 973.48 L1392.24 974.51 L1394.61 975.54 L1396.99 976.56 L1399.36 977.59 L1401.73 978.61 L1404.11 979.63 L1406.48 980.65 L1408.85 981.67 L1411.23 982.69 L1413.60 983.70 L1415.97 984.72 L1418.35 985.73 L1420.72 986.74 L1423.09 987.74 L1425.47 988.75 L1427.84 989.75 L1430.21 990.75 L1432.59 991.75 L1434.96 992.75 L1437.33 993.75 L1439.71 994.75 L1442.08 995.74 L1444.45 996.73 L1446.83 997.72 L1449.20 998.71 L1451.57 999.70 L1453.95 1000.68 L1456.32 1001.67 L1458.69 1002.65 L1461.07 1003.63 L1463.44 1004.61 L1465.81 1005.58 L1468.19 1006.56 L1470.56 1007.53 L1472.93 1008.51 L1475.31 1009.48 L1477.68 1010.45 L1480.05 1011.42 L1482.43 1012.38 L1484.80 1013.35 L1487.17 1014.31 L1489.55 1015.27 L1491.92 1016.23 L1494.29 1017.19 L1496.67 1018.15 L1499.04 1019.10 L1501.41 1020.06 L1503.79 1021.01 L1506.16 1021.96 L1508.53 1022.91 L1510.91 1023.86 L1513.28 1024.81 L1515.65 1025.76 L1518.03 1026.70 L1520.40 1027.64 L1522.77 1028.58 L1525.15 1029.52 L1527.52 1030.46 L1529.89 1031.40 L1532.27 1032.34 L1534.64 1033.27 L1537.01 1034.21 L1539.39 1035.14 L1541.76 1036.07 L1544.13 1037.00 L1546.51 1037.93 L1548.88 1038.85 L1551.25 1039.78 L1553.63 1040.70 L1556.00 1041.62 L1558.37 1042.55 L1560.75 1043.47 L1563.12 1044.38 L1565.49 1045.30 L1567.87 1046.22 L1570.24 1047.13 L1572.61 1048.05 L1574.99 1048.96 L1577.36 1049.87 L1579.73 1050.78 L1582.11 1051.69 L1584.48 1052.60 L1586.85 1053.50 L1589.23 1054.41 L1591.60 1055.31 L1593.97 1056.21 L1596.35 1057.12 L1598.72 1058.02 L1601.09 1058.91 L1603.47 1059.81 L1605.84 1060.71 L1608.21 1061.60 L1610.59 1062.50 L1612.96 1063.39 L1615.33 1064.28 L1617.71 1065.17 L1620.08 1066.06 L1622.45 1066.95 L1624.83 1067.84 L1627.20 1068.73 L1629.57 1069.61 L1631.95 1070.49 L1634.32 1071.38 L1636.69 1072.26 L1639.07 1073.14 L1641.44 1074.02 L1643.81 1074.90 L1646.19 1075.77 L1648.56 1076.65 L1650.93 1077.53 L1653.31 1078.40 L1655.68 1079.27 L1658.05 1080.14 L1660.43 1081.01 L1662.80 1081.88 L1665.17 1082.75 L1667.55 1083.62 L1669.92 1084.49 L1672.29 1085.35 L1674.67 1086.22 L1677.04 1087.08 L1679.41 1087.94 L1681.79 1088.80 L1684.16 1089.66 L1686.53 1090.52 L1688.91 1091.38 L1691.28 1092.24 L1693.65 1093.09 L1696.03 1093.95 L1698.40 1094.80 L1700.77 1095.65 L1703.15 1096.51 L1705.52 1097.36 L1707.89 1098.21 L1710.27 1099.06 L1712.64 1099.90 L1715.01 1100.75 L1717.39 1101.60 L1719.76 1102.44 L1722.13 1103.28 L1724.51 1104.13 L1726.88 1104.97 L1729.25 1105.81 L1731.63 1106.65 L1734.00 1107.49 L1736.37 1108.33 L1738.75 1109.17 L1741.12 1110.00 L1743.49 1110.84 L1745.87 1111.67 L1748.24 1112.50 L1750.61 1113.34 L1752.99 1114.17 L1755.36 1115.00 L1757.73 1115.83 L1760.11 1116.66 L1762.48 1117.49 L1764.85 1118.31 L1767.23 1119.14 L1769.60 1119.96 L1771.97 1120.79 L1774.35 1121.61 L1776.72 1122.43 L1779.09 1123.26 L1781.47 1124.08 L1783.84 1124.90 L1786.21 1125.71 L1788.59 1126.53 L1790.96 1127.35 L1793.33 1128.17 L1795.71 1128.98 L1798.08 1129.79 L1800.45 1130.61 L1802.83 1131.42 L1805.20 1132.23 L1807.57 1133.04 L1809.95 1133.85 L1812.32 1134.66 L1814.69 1135.47 L1817.07 1136.28 L1819.44 1137.09 L1821.81 1137.89 L1824.19 1138.70 L1826.56 1139.50 L1828.93 1140.30 L1831.31 1141.11 L1833.68 1141.91 L1836.05 1142.71 L1838.43 1143.51 L1840.80 1144.31 L1843.17 1145.10 L1845.55 1145.90 L1847.92 1146.70 L1850.29 1147.49 L1852.67 1148.29 L1855.04 1149.08 L1857.41 1149.88 L1859.79 1150.67 L1862.16 1151.46 L1864.53 1152.25 L1866.91 1153.04 L1869.28 1153.83 L1871.65 1154.62 L1874.03 1155.41 L1876.40 1156.19 L1878.77 1156.98 L1881.15 1157.77 L1883.52 1158.55 L1885.89 1159.33 L1888.27 1160.12 L1890.64 1160.90 L1893.01 1161.68 L1895.39 1162.46 L1897.76 1163.24 L1900.13 1164.02 L1902.51 1164.80 L1904.88 1165.58 L1907.25 1166.35 L1909.63 1167.13 L1912.00 1167.90 L1914.37 1168.68 L1916.75 1169.45 L1919.12 1170.22 L1921.49 1171.00 L1923.87 1171.77 L1926.24 1172.54 L1928.61 1173.31 L1930.99 1174.08 L1933.36 1174.85 L1935.73 1175.61 L1938.11 1176.38 L1940.48 1177.15 L1942.85 1177.91 L1945.23 1178.68 L1947.60 1179.44 L1949.97 1180.21 L1952.35 1180.97 L1954.72 1181.73 L1957.09 1182.49 L1959.47 1183.25 L1961.84 1184.01 L1964.21 1184.77 L1966.59 1185.53 L1968.96 1186.29 L1971.33 1187.04 L1973.71 1187.80 L1976.08 1188.55 L1978.45 1189.31 L1980.83 1190.06 L1983.20 1190.82 L1985.57 1191.57 L1987.95 1192.32 L1990.32 1193.07 L1992.69 1193.82 L1995.07 1194.57 L1997.44 1195.32 L1999.81 1196.07 L2002.19 1196.82 L2004.56 1197.56 L2006.93 1198.31 L2009.31 1199.06 L2011.68 1199.80 L2014.05 1200.55 L2016.43 1201.29 L2018.80 1202.03 L2021.17 1202.77 L2023.55 1203.52 L2025.92 1204.26 L2028.29 1205.00 L2030.67 1205.74 L2033.04 1206.48 L2035.41 1207.21 L2037.79 1207.95 L2040.16 1208.69 L2042.53 1209.42 L2044.91 1210.16 L2047.28 1210.89 L2049.65 1211.63 L2052.03 1212.36 L2054.40 1213.10 L2056.77 1213.83 L2059.15 1214.56 L2061.52 1215.29 L2063.89 1216.02 L2066.27 1216.75 L2068.64 1217.48 L2071.01 1218.21 L2073.39 1218.94 L2075.76 1219.66 L2078.13 1220.39 L2080.51 1221.11 L2082.88 1221.84 L2085.25 1222.56 L2087.63 1223.29 L2090.00 1224.01" stroke="#3333FF"/>
<path d="M310.00 674.82 L312.37 674.89 L314.75 674.96 L317.12 675.03 L319.49 675.10 L321.87 675.17 L324.24 675.24 L326.61 675.32 L328.99 675.39 L331.36 675.47 L333.73 675.55 L336.11 675.63 L338.48 675.71 L340.85 675.79 L343.23 675.87 L345.60 675.96 L347.97 676.04 L350.35 676.13 L352.72 676.22 L355.09 676.31 L357.47 676.40 L359.84 676.49 L362.21 676.59 L364.59 676.68 L366.96 676.78 L369.33 676.88 L371.71 676.98 L374.08 677.08 L376.45 677.18 L378.83 677.29 L381.20 677.40 L383.57 677.51 L385.95 677.62 L388.32 677.73 L390.69 677.84 L393.07 677.96 L395.44 678.08 L397.81 678.20 L400.19 678.32 L402.56 678.44 L404.93 678.57 L407.31 678.69 L409.68 678.82 L412.05 678.96 L414.43 679.09 L416.80 679.23 L419.17 679.36 L421.55 679.50 L423.92 679.65 L426.29 679.79 L428.67 679.94 L431.04 680.09 L433.41 680.24 L435.79 680.39 L438.16 680.55 L440.53 680.71 L442.91 680.87 L445.28 681.03 L447.65 681.20 L450.03 681.37 L452.40 681.54 L454.77 681.71 L457.15 681.89 L459.52 682.07 L461.89 682.25 L464.27 682.44 L466.64 682.63 L469.01 682.82 L471.39 683.01 L473.76 683.21 L476.13 683.41 L478.51 683.62 L480.88 683.82 L483.25 684.03 L485.63 684.25 L488.00 684.46 L490.37 684.68 L492.75 684.91 L495.12 685.13 L497.49 685.36 L499.87 685.60 L502.24 685.83 L504.61 686.07 L506.99 686.32 L509.36 686.57 L511.73 686.82 L514.11 687.08 L516.48 687.34 L518.85 687.60 L521.23 687.87 L523.60 688.14 L525.97 688.41 L528.35 688.69 L530.72 688.98 L533.09 689.27 L535.47 689.56 L537.84 689.86 L540.21 690.16 L542.59 690.46 L544.96 690.78 L547.33 691.09 L549.71 691.41 L552.08 691.73 L554.45 692.06 L556.83 692.40 L559.20 692.74 L561.57 693.08 L563.95 693.43 L566.32 693.78 L568.69 694.14 L571.07 694.51 L573.44 694.88 L575.81 695.25 L578.19 695.63 L580.56 696.01 L582.93 696.41 L585.31 696.80 L587.68 697.20 L590.05 697.61 L592.43 698.02 L594.80 698.44 L597.17 698.87 L599.55 699.30 L601.92 699.73 L604.29 700.18 L606.67 700.63 L609.04 701.08 L611.41 701.54 L613.79 702.01 L616.16 702.48 L618.53 702.96 L620.91 703.45 L623.28 703.94 L625.65 704.44 L628.03 704.94 L630.40 705.45 L632.77 705.97 L635.15 706.50 L637.52 707.03 L639.89 707.57 L642.27 708.11 L644.64 708.67 L647.01 709.23 L649.39 709.79 L651.76 710.36 L654.13 710.95 L656.51 711.53 L658.88 712.13 L661.25 712.73 L663.63 713.34 L666.00 713.96 L668.37 714.58 L670.75 715.21 L673.12 715.85 L675.49 716.50 L677.87 717.15 L680.24 717.81 L682.61 718.48 L684.99 719.16 L687.36 719.84 L689.73 720.53 L692.11 721.23 L694.48 721.94 L696.85 722.65 L699.23 723.38 L701.60 724.11 L703.97 724.84 L706.35 725.59 L708.72 726.34 L711.09 727.11 L713.47 727.88 L715.84 728.65 L718.21 729.44 L720.59 730.23 L722.96 731.03 L725.33 731.84 L727.71 732.66 L730.08 733.48 L732.45 734.32 L734.83 735.16 L737.20 736.01 L739.57 736.86 L741.95 737.73 L744.32 738.60 L746.69 739.48 L749.07 740.37 L751.44 741.27 L753.81 742.17 L756.19 743.08 L758.56 744.00 L760.93 744.93 L763.31 745.87 L765.68 746.81 L768.05 747.76 L770.43 748.72 L772.80 749.69 L775.17 750.66 L777.55 751.64 L779.92 752.63 L782.29 753.63 L784.13 754.41 L784.43 754.53 L784.67 754.63 L784.73 754.66 L785.02 754.78 L785.32 754.91 L785.62 755.04 L785.91 755.16 L786.21 755.29 L786.51 755.42 L786.80 755.54 L787.04 755.65 L787.10 755.67 L787.40 755.80 L787.69 755.92 L787.99 756.05 L788.29 756.18 L788.58 756.31 L788.88 756.43 L789.18 756.56 L789.41 756.66 L789.47 756.69 L789.77 756.82 L790.07 756.95 L790.36 757.07 L790.66 757.20 L790.96 757.33 L791.25 757.46 L791.55 757.59 L791.79 757.69 L791.85 757.72 L792.14 757.85 L792.44 757.98 L792.74 758.10 L793.03 758.23 L793.33 758.36 L793.63 758.49 L793.92 758.62 L794.16 758.73 L794.22 758.75 L794.52 758.88 L794.81 759.01 L795.11 759.14 L795.41 759.27 L795.70 759.40 L796.00 759.53 L796.30 759.66 L796.53 759.77 L796.59 759.79 L796.89 759.92 L797.19 760.05 L797.48 760.19 L797.78 760.32 L798.08 760.45 L798.37 760.58 L798.67 760.71 L798.91 760.82 L798.97 760.84 L799.26 760.97 L799.56 761.11 L799.86 761.24 L800.15 761.37 L800.45 761.50 L800.75 761.63 L801.04 761.77 L801.28 761.87 L801.34 761.90 L801.64 762.03 L801.93 762.16 L802.23 762.30 L802.53 762.43 L802.82 762.56 L803.12 762.69 L803.42 762.83 L803.65 762.93 L803.71 762.96 L804.01 763.09 L804.31 763.23 L804.60 763.36 L804.90 763.50 L805.20 763.63 L805.49 763.76 L805.79 763.90 L806.03 764.00 L806.09 764.03 L806.38 764.16 L806.68 764.29 L806.98 764.42 L807.27 764.54 L807.57 764.62 L807.87 764.65 L808.16 764.89 L808.40 765.04 L808.46 765.07 L808.76 765.23 L809.05 765.37 L809.35 765.51 L809.65 765.65 L809.94 765.79 L810.24 765.92 L810.54 766.06 L810.77 766.17 L810.83 766.19 L811.13 766.33 L811.43 766.47 L811.72 766.60 L812.02 766.74 L812.32 766.87 L812.61 767.01 L812.91 767.15 L813.15 767.26 L813.21 767.28 L813.50 767.42 L813.80 767.56 L814.10 767.70 L814.39 767.83 L814.69 767.97 L814.99 768.11 L815.28 768.25 L815.52 768.36 L815.58 768.38 L815.88 768.52 L816.17 768.66 L816.47 768.80 L816.77 768.93 L817.06 769.07 L817.36 769.21 L817.66 769.35 L817.89 769.46 L817.95 769.49 L818.25 769.63 L818.55 769.77 L818.84 769.90 L819.14 770.04 L819.44 770.18 L819.73 770.32 L820.03 770.46 L820.27 770.57 L820.33 770.60 L820.62 770.74 L820.92 770.88 L821.22 771.02 L821.51 771.16 L821.81 771.30 L822.11 771.44 L822.40 771.58 L822.64 771.69 L822.70 771.72 L823.00 771.86 L823.29 772.00 L823.59 772.14 L823.89 772.28 L824.18 772.42 L824.48 772.56 L824.78 772.70 L825.01 772.82 L825.07 772.84 L825.37 772.98 L825.67 773.13 L825.96 773.27 L826.26 773.41 L826.56 773.55 L826.85 773.69 L827.15 773.83 L827.39 773.95 L827.45 773.97 L827.74 774.12 L828.04 774.26 L828.34 774.40 L828.63 774.54 L828.93 774.69 L829.23 774.83 L829.52 774.97 L829.76 775.08 L829.82 775.11 L830.12 775.26 L830.41 775.40 L830.71 775.54 L831.01 775.68 L831.30 775.83 L831.60 775.97 L832.13 776.23 L834.51 777.38 L836.88 778.54 L839.25 779.70 L841.63 780.87 L844.00 782.05 L846.37 783.23 L848.75 784.41 L851.12 785.61 L853.49 786.81 L855.87 788.01 L858.24 789.22 L860.61 790.44 L862.99 791.66 L865.36 792.89 L867.73 794.12 L870.11 795.36 L872.48 796.60 L874.85 797.85 L877.23 799.10 L879.60 800.36 L881.97 801.62 L884.35 802.89 L886.72 804.16 L889.09 805.43 L891.47 806.71 L893.84 808.00 L896.21 809.29 L898.59 810.58 L900.96 811.88 L903.33 813.18 L903.33 813.18 L905.71 813.84 L908.08 814.50 L910.45 815.17 L912.83 815.84 L915.20 816.51 L917.57 817.19 L919.95 817.88 L922.32 818.57 L924.69 819.26 L927.07 819.96 L929.44 820.66 L931.81 821.37 L934.19 822.08 L936.56 822.80 L938.93 823.52 L941.31 824.24 L943.68 824.97 L946.05 825.70 L948.43 826.43 L950.80 827.17 L953.17 827.91 L955.55 828.66 L957.92 829.41 L960.29 830.16 L962.67 830.92 L965.04 831.68 L967.41 832.44 L969.79 833.21 L972.16 833.98 L974.53 834.76 L976.91 835.53 L979.28 836.31 L981.65 837.10 L984.03 837.88 L986.40 838.67 L988.77 839.47 L991.15 840.26 L993.52 841.06 L995.89 841.86 L998.27 842.67 L1000.64 843.47 L1003.01 844.28 L1005.39 845.10 L1007.76 845.91 L1010.13 846.73 L1012.51 847.55 L1014.88 848.37 L1017.25 849.20 L1019.63 850.02 L1022.00 850.85 L1024.37 851.69 L1026.75 852.52 L1029.12 853.36 L1031.49 854.20 L1033.87 855.04 L1036.24 855.88 L1038.61 856.73 L1040.99 857.57 L1043.36 858.42 L1045.73 859.27 L1048.11 860.12 L1050.48 860.98 L1052.85 861.84 L1055.23 862.69 L1057.60 863.55 L1059.97 864.42 L1062.35 865.28 L1064.72 866.14 L1067.09 867.01 L1069.47 867.88 L1071.84 868.75 L1074.21 869.62 L1076.59 870.49 L1078.96 871.37 L1081.33 872.24 L1083.71 873.12 L1086.08 874.00 L1088.45 874.88 L1090.83 875.76 L1093.20 876.64 L1095.57 877.52 L1097.95 878.41 L1100.32 879.29 L1102.69 880.18 L1105.07 881.07 L1107.44 881.95 L1109.81 882.84 L1112.19 883.73 L1114.56 884.63 L1116.93 885.52 L1119.31 886.41 L1121.68 887.31 L1124.05 888.20 L1126.43 889.10 L1128.80 889.99 L1131.17 890.89 L1133.55 891.79 L1135.92 892.69 L1138.29 893.59 L1140.67 894.49 L1143.04 895.39 L1145.41 896.29 L1147.79 897.19 L1150.16 898.10 L1152.53 899.00 L1154.91 899.91 L1157.28 900.81 L1159.65 901.72 L1162.03 902.62 L1164.40 903.53 L1166.77 904.43 L1169.15 905.34 L1171.52 906.25 L1173.89 907.16 L1176.27 908.06 L1178.64 908.97 L1181.01 909.88 L1183.39 910.79 L1185.76 911.70 L1188.13 912.61 L1190.51 913.52 L1192.88 914.43 L1195.25 915.34 L1197.63 916.25 L1200.00 917.16 L1202.37 918.07 L1204.75 918.98 L1207.12 919.90 L1209.49 920.81 L1211.87 921.72 L1214.24 922.63 L1216.61 923.54 L1218.99 924.45 L1221.36 925.37 L1223.73 926.28 L1226.11 927.19 L1228.48 928.10 L1230.85 929.01 L1233.23 929.93 L1235.60 930.84 L1237.97 931.75 L1240.35 932.66 L1242.72 933.57 L1245.09 934.49 L1247.47 935.40 L1249.84 936.31 L1252.21 937.22 L1254.59 938.13 L1256.96 939.04 L1259.33 939.96 L1261.71 940.87 L1264.08 941.78 L1266.45 942.69 L1268.83 943.60 L1271.20 944.51 L1273.57 945.42 L1275.95 946.33 L1278.32 947.24 L1280.69 948.15 L1283.07 949.06 L1285.44 949.97 L1287.81 950.88 L1290.19 951.78 L1292.56 952.69 L1294.93 953.60 L1297.31 954.51 L1299.68 955.42 L1302.05 956.32 L1304.43 957.23 L1306.80 958.14 L1309.17 959.04 L1311.55 959.95 L1313.92 960.86 L1316.29 961.76 L1318.67 962.67 L1321.04 963.57 L1323.41 964.47 L1325.79 965.38 L1328.16 966.28 L1330.53 967.18 L1332.91 968.09 L1335.28 968.99 L1337.65 969.89 L1340.03 970.79 L1342.40 971.69 L1344.77 972.60 L1347.15 973.50 L1349.52 974.40 L1351.89 975.29 L1354.27 976.19 L1356.64 977.09 L1359.01 977.99 L1361.39 978.89 L1363.76 979.79 L1366.13 980.68 L1368.51 981.58 L1370.88 982.47 L1373.25 983.37 L1375.63 984.26 L1378.00 985.16 L1380.37 986.05 L1382.75 986.95 L1385.12 987.84 L1387.49 988.73 L1389.87 989.62 L1392.24 990.51 L1394.61 991.41 L1396.99 992.30 L1399.36 993.19 L1401.73 994.07 L1404.11 994.96 L1406.48 995.85 L1408.85 996.74 L1411.23 997.63 L1413.60 998.51 L1415.97 999.40 L1418.35 1000.28 L1420.72 1001.17 L1423.09 1002.05 L1425.47 1002.94 L1427.84 1003.82 L1430.21 1004.70 L1432.59 1005.59 L1434.96 1006.47 L1437.33 1007.35 L1439.71 1008.23 L1442.08 1009.11 L1444.45 1009.99 L1446.83 1010.87 L1449.20 1011.75 L1451.57 1012.62 L1453.95 1013.50 L1456.32 1014.38 L1458.69 1015.25 L1461.07 1016.13 L1463.44 1017.00 L1465.81 1017.88 L1468.19 1018.75 L1470.56 1019.62 L1472.93 1020.50 L1475.31 1021.37 L1477.68 1022.24 L1480.05 1023.11 L1482.43 1023.98 L1484.80 1024.85 L1487.17 1025.72 L1489.55 1026.58 L1491.92 1027.45 L1494.29 1028.32 L1496.67 1029.19 L1499.04 1030.05 L1501.41 1030.92 L1503.79 1031.78 L1506.16 1032.64 L1508.53 1033.51 L1510.91 1034.37 L1513.28 1035.23 L1515.65 1036.09 L1518.03 1036.95 L1520.40 1037.81 L1522.77 1038.67 L1525.15 1039.53 L1527.52 1040.39 L1529.89 1041.25 L1532.27 1042.10 L1534.64 1042.96 L1537.01 1043.81 L1539.39 1044.67 L1541.76 1045.52 L1544.13 1046.38 L1546.51 1047.23 L1548.88 1048.08 L1551.25 1048.93 L1553.63 1049.78 L1556.00 1050.64 L1558.37 1051.48 L1560.75 1052.33 L1563.12 1053.18 L1565.49 1054.03 L1567.87 1054.88 L1570.24 1055.72 L1572.61 1056.57 L1574.99 1057.41 L1577.36 1058.26 L1579.73 1059.10 L1582.11 1059.95 L1584.48 1060.79 L1586.85 1061.63 L1589.23 1062.47 L1591.60 1063.31 L1593.97 1064.15 L1596.35 1064.99 L1598.72 1065.83 L1601.09 1066.67 L1603.47 1067.51 L1605.84 1068.34 L1608.21 1069.18 L1610.59 1070.01 L1612.96 1070.85 L1615.33 1071.68 L1617.71 1072.52 L1620.08 1073.35 L1622.45 1074.18 L1624.83 1075.01 L1627.20 1075.84 L1629.57 1076.67 L1631.95 1077.50 L1634.32 1078.33 L1636.69 1079.16 L1639.07 1079.99 L1641.44 1080.82 L1643.81 1081.64 L1646.19 1082.47 L1648.56 1083.29 L1650.93 1084.12 L1653.31 1084.94 L1655.68 1085.76 L1658.05 1086.59 L1660.43 1087.41 L1662.80 1088.23 L1665.17 1089.05 L1667.55 1089.87 L1669.92 1090.69 L1672.29 1091.51 L1674.67 1092.32 L1677.04 1093.14 L1679.41 1093.96 L1681.79 1094.77 L1684.16 1095.59 L1686.53 1096.40 L1688.91 1097.22 L1691.28 1098.03 L1693.65 1098.84 L1696.03 1099.66 L1698.40 1100.47 L1700.77 1101.28 L1703.15 1102.09 L1705.52 1102.90 L1707.89 1103.71 L1710.27 1104.51 L1712.64 1105.32 L1715.01 1106.13 L1717.39 1106.93 L1719.76 1107.74 L1722.13 1108.54 L1724.51 1109.35 L1726.88 1110.15 L1729.25 1110.95 L1731.63 1111.76 L1734.00 1112.56 L1736.37 1113.36 L1738.75 1114.16 L1741.12 1114.96 L1743.49 1115.76 L1745.87 1116.56 L1748.24 1117.35 L1750.61 1118.15 L1752.99 1118.95 L1755.36 1119.74 L1757.73 1120.54 L1760.11 1121.33 L1762.48 1122.13 L1764.85 1122.92 L1767.23 1123.71 L1769.60 1124.51 L1771.97 1125.30 L1774.35 1126.09 L1776.72 1126.88 L1779.09 1127.67 L1781.47 1128.46 L1783.84 1129.24 L1786.21 1130.03 L1788.59 1130.82 L1790.96 1131.60 L1793.33 1132.39 L1795.71 1133.17 L1798.08 1133.96 L1800.45 1134.74 L1802.83 1135.53 L1805.20 1136.31 L1807.57 1137.09 L1809.95 1137.87 L1812.32 1138.65 L1814.69 1139.43 L1817.07 1140.21 L1819.44 1140.99 L1821.81 1141.77 L1824.19 1142.55 L1826.56 1143.32 L1828.93 1144.10 L1831.31 1144.87 L1833.68 1145.65 L1836.05 1146.42 L1838.43 1147.20 L1840.80 1147.97 L1843.17 1148.74 L1845.55 1149.51 L1847.92 1150.29 L1850.29 1151.06 L1852.67 1151.83 L1855.04 1152.60 L1857.41 1153.36 L1859.79 1154.13 L1862.16 1154.90 L1864.53 1155.67 L1866.91 1156.43 L1869.28 1157.20 L1871.65 1157.96 L1874.03 1158.73 L1876.40 1159.49 L1878.77 1160.25 L1881.15 1161.02 L1883.52 1161.78 L1885.89 1162.54 L1888.27 1163.30 L1890.64 1164.06 L1893.01 1164.82 L1895.39 1165.58 L1897.76 1166.34 L1900.13 1167.10 L1902.51 1167.85 L1904.88 1168.61 L1907.25 1169.37 L1909.63 1170.12 L1912.00 1170.88 L1914.37 1171.63 L1916.75 1172.38 L1919.12 1173.14 L1921.49 1173.89 L1923.87 1174.64 L1926.24 1175.39 L1928.61 1176.14 L1930.99 1176.89 L1933.36 1177.64 L1935.73 1178.39 L1938.11 1179.14 L1940.48 1179.89 L1942.85 1180.63 L1945.23 1181.38 L1947.60 1182.13 L1949.97 1182.87 L1952.35 1183.62 L1954.72 1184.36 L1957.09 1185.10 L1959.47 1185.85 L1961.84 1186.59 L1964.21 1187.33 L1966.59 1188.07 L1968.96 1188.81 L1971.33 1189.55 L1973.71 1190.29 L1976.08 1191.03 L1978.45 1191.77 L1980.83 1192.50 L1983.20 1193.24 L1985.57 1193.98 L1987.95 1194.71 L1990.32 1195.45 L1992.69 1196.18 L1995.07 1196.92 L1997.44 1197.65 L1999.81 1198.38 L2002.19 1199.12 L2004.56 1199.85 L2006.93 1200.58 L2009.31 1201.31 L2011.68 1202.04 L2014.05 1202.77 L2016.43 1203.50 L2018.80 1204.23 L2021.17 1204.96 L2023.55 1205.68 L2025.92 1206.41 L2028.29 1207.14 L2030.67 1207.86 L2033.04 1208.59 L2035.41 1209.31 L2037.79 1210.03 L2040.16 1210.76 L2042.53 1211.48 L2044.91 1212.20 L2047.28 1212.92 L2049.65 1213.65 L2052.03 1214.37 L2054.40 1215.09 L2056.77 1215.80 L2059.15 1216.52 L2061.52 1217.24 L2063.89 1217.96 L2066.27 1218.68 L2068.64 1219.39 L2071.01 1220.11 L2073.39 1220.82 L2075.76 1221.54 L2078.13 1222.25 L2080.51 1222.97 L2082.88 1223.68 L2085.25 1224.39 L2087.63 1225.11 L2090.00 1225.82" stroke="#00B050"/>
<path d="M310.00 682.19 L312.37 682.37 L314.75 682.55 L317.12 682.73 L319.49 682.91 L321.87 683.10 L324.24 683.28 L326.61 683.47 L328.99 683.66 L331.36 683.86 L333.73 684.06 L336.11 684.26 L338.48 684.46 L340.85 684.66 L343.23 684.87 L345.60 685.08 L347.97 685.29 L350.35 685.51 L352.72 685.73 L355.09 685.95 L357.47 686.17 L359.84 686.40 L362.21 686.62 L364.59 686.86 L366.96 687.09 L369.33 687.33 L371.71 687.57 L374.08 687.81 L376.45 688.06 L378.83 688.30 L381.20 688.56 L383.57 688.81 L385.95 689.07 L388.32 689.33 L390.69 689.59 L393.07 689.86 L395.44 690.13 L397.81 690.40 L400.19 690.68 L402.56 690.96 L404.93 691.24 L407.31 691.52 L409.68 691.81 L412.05 692.11 L414.43 692.40 L416.80 692.70 L419.17 693.00 L421.55 693.31 L423.92 693.62 L426.29 693.93 L428.67 694.24 L431.04 694.56 L433.41 694.89 L435.79 695.21 L438.16 695.54 L440.53 695.87 L442.91 696.21 L445.28 696.55 L447.65 696.90 L450.03 697.24 L452.40 697.59 L454.77 697.95 L457.15 698.31 L459.52 698.67 L461.89 699.04 L464.27 699.41 L466.64 699.78 L469.01 700.16 L471.39 700.54 L473.76 700.93 L476.13 701.31 L478.51 701.71 L480.88 702.11 L483.25 702.51 L485.63 702.91 L488.00 703.32 L490.37 703.73 L492.75 704.15 L495.12 704.57 L497.49 705.00 L499.87 705.43 L502.24 705.86 L504.61 706.30 L506.99 706.74 L509.36 707.19 L511.73 707.64 L514.11 708.09 L516.48 708.55 L518.85 709.01 L521.23 709.48 L523.60 709.95 L525.97 710.43 L528.35 710.91 L530.72 711.39 L533.09 711.88 L535.47 712.37 L537.84 712.87 L540.21 713.37 L542.59 713.88 L544.96 714.39 L547.33 714.90 L549.71 715.42 L552.08 715.95 L554.45 716.48 L556.83 717.01 L559.20 717.55 L561.57 718.09 L563.95 718.64 L566.32 719.19 L568.69 719.75 L571.07 720.31 L573.44 720.87 L575.81 721.44 L578.19 722.02 L580.56 722.59 L582.93 723.18 L585.31 723.77 L587.68 724.36 L590.05 724.96 L592.43 725.56 L594.80 726.17 L597.17 726.78 L599.55 727.40 L601.92 728.02 L604.29 728.64 L606.67 729.27 L609.04 729.91 L611.41 730.55 L613.79 731.19 L616.16 731.84 L618.53 732.50 L620.91 733.16 L623.28 733.82 L625.65 734.49 L628.03 735.16 L630.40 735.84 L632.77 736.52 L635.15 737.21 L637.52 737.90 L639.89 738.60 L642.27 739.30 L644.64 740.01 L647.01 740.72 L649.39 741.44 L651.76 742.16 L654.13 742.88 L656.51 743.61 L658.88 744.35 L661.25 745.09 L663.63 745.83 L666.00 746.58 L668.37 747.34 L670.75 748.10 L673.12 748.86 L675.49 749.63 L677.87 750.40 L680.24 751.18 L682.61 751.96 L684.99 752.75 L687.36 753.54 L689.73 754.33 L692.11 755.14 L694.48 755.94 L696.85 756.75 L699.23 757.57 L701.60 758.39 L703.97 759.21 L706.35 760.04 L708.72 760.87 L711.09 761.71 L713.47 762.55 L715.84 763.40 L718.21 764.25 L720.59 765.11 L722.96 765.97 L725.33 766.83 L727.71 767.70 L730.08 768.58 L732.45 769.45 L734.83 770.34 L737.20 771.22 L739.57 772.11 L741.95 773.01 L744.32 773.91 L746.69 774.81 L749.07 775.72 L751.44 776.64 L753.81 777.55 L756.19 778.47 L758.56 779.40 L760.93 780.33 L763.31 781.26 L765.68 782.20 L768.05 783.15 L770.43 784.09 L772.80 785.04 L775.17 786.00 L777.55 786.96 L779.92 787.92 L782.29 788.89 L784.13 789.64 L784.43 789.76 L784.67 789.86 L784.73 789.88 L785.02 790.00 L785.32 790.12 L785.62 790.25 L785.91 790.37 L786.21 790.49 L786.51 790.61 L786.80 790.73 L787.04 790.83 L787.10 790.86 L787.40 790.98 L787.69 791.10 L787.99 791.22 L788.29 791.34 L788.58 791.47 L788.88 791.59 L789.18 791.71 L789.41 791.81 L789.47 791.83 L789.77 791.96 L790.07 792.08 L790.36 792.20 L790.66 792.32 L790.96 792.45 L791.25 792.57 L791.55 792.69 L791.79 792.79 L791.85 792.82 L792.14 792.94 L792.44 793.06 L792.74 793.19 L793.03 793.31 L793.33 793.43 L793.63 793.56 L793.92 793.68 L794.16 793.78 L794.22 793.80 L794.52 793.93 L794.81 794.05 L795.11 794.17 L795.41 794.30 L795.70 794.42 L796.00 794.55 L796.30 794.67 L796.53 794.77 L796.59 794.79 L796.89 794.92 L797.19 795.04 L797.48 795.17 L797.78 795.29 L798.08 795.41 L798.37 795.54 L798.67 795.66 L798.91 795.76 L798.97 795.79 L799.26 795.91 L799.56 796.04 L799.86 796.16 L800.15 796.29 L800.45 796.41 L800.75 796.54 L801.04 796.66 L801.28 796.76 L801.34 796.79 L801.64 796.91 L801.93 797.04 L802.23 797.16 L802.53 797.29 L802.82 797.41 L803.12 797.54 L803.42 797.66 L803.65 797.76 L803.71 797.79 L804.01 797.91 L804.31 798.04 L804.60 798.16 L804.90 798.29 L805.20 798.41 L805.49 798.54 L805.79 798.67 L806.03 798.77 L806.09 798.79 L806.38 798.92 L806.68 799.04 L806.98 799.16 L807.27 799.26 L807.57 799.34 L807.87 799.36 L808.16 799.60 L808.40 799.74 L808.46 799.77 L808.76 799.91 L809.05 800.05 L809.35 800.18 L809.65 800.31 L809.94 800.43 L810.24 800.56 L810.54 800.69 L810.77 800.79 L810.83 800.81 L811.13 800.94 L811.43 801.07 L811.72 801.20 L812.02 801.32 L812.32 801.45 L812.61 801.58 L812.91 801.70 L813.15 801.81 L813.21 801.83 L813.50 801.96 L813.80 802.09 L814.10 802.21 L814.39 802.34 L814.69 802.47 L814.99 802.60 L815.28 802.72 L815.52 802.83 L815.58 802.85 L815.88 802.98 L816.17 803.11 L816.47 803.23 L816.77 803.36 L817.06 803.49 L817.36 803.62 L817.66 803.75 L817.89 803.85 L817.95 803.87 L818.25 804.00 L818.55 804.13 L818.84 804.26 L819.14 804.39 L819.44 804.52 L819.73 804.65 L820.03 804.77 L820.27 804.88 L820.33 804.90 L820.62 805.03 L820.92 805.16 L821.22 805.29 L821.51 805.42 L821.81 805.55 L822.11 805.68 L822.40 805.80 L822.64 805.91 L822.70 805.93 L823.00 806.06 L823.29 806.19 L823.59 806.32 L823.89 806.45 L824.18 806.58 L824.48 806.71 L824.78 806.84 L825.01 806.94 L825.07 806.97 L825.37 807.10 L825.67 807.23 L825.96 807.36 L826.26 807.49 L826.56 807.62 L826.85 807.75 L827.15 807.88 L827.39 807.98 L827.45 808.01 L827.74 808.14 L828.04 808.27 L828.34 808.40 L828.63 808.53 L828.93 808.66 L829.23 808.79 L829.52 808.92 L829.76 809.02 L829.82 809.05 L830.12 809.18 L830.41 809.31 L830.71 809.44 L831.01 809.57 L831.30 809.70 L831.60 809.83 L832.13 810.07 L834.51 811.11 L836.88 812.17 L839.25 813.22 L841.63 814.28 L844.00 815.34 L846.37 816.41 L848.75 817.47 L851.12 818.54 L853.49 819.62 L855.87 820.70 L858.24 821.78 L860.61 822.86 L862.99 823.95 L865.36 825.04 L867.73 826.13 L870.11 827.23 L872.48 828.33 L874.85 829.43 L877.23 830.53 L879.60 831.64 L881.97 832.75 L884.35 833.86 L886.72 834.98 L889.09 836.10 L891.47 837.22 L893.84 838.34 L896.21 839.47 L898.59 840.60 L900.96 841.73 L903.33 842.87 L903.33 842.87 L905.71 843.44 L908.08 844.01 L910.45 844.59 L912.83 845.17 L915.20 845.76 L917.57 846.35 L919.95 846.94 L922.32 847.53 L924.69 848.13 L927.07 848.73 L929.44 849.33 L931.81 849.94 L934.19 850.55 L936.56 851.16 L938.93 851.77 L941.31 852.39 L943.68 853.01 L946.05 853.64 L948.43 854.26 L950.80 854.89 L953.17 855.52 L955.55 856.16 L957.92 856.80 L960.29 857.44 L962.67 858.08 L965.04 858.73 L967.41 859.37 L969.79 860.03 L972.16 860.68 L974.53 861.34 L976.91 861.99 L979.28 862.66 L981.65 863.32 L984.03 863.99 L986.40 864.66 L988.77 865.33 L991.15 866.00 L993.52 866.68 L995.89 867.35 L998.27 868.04 L1000.64 868.72 L1003.01 869.40 L1005.39 870.09 L1007.76 870.78 L1010.13 871.47 L1012.51 872.17 L1014.88 872.87 L1017.25 873.56 L1019.63 874.27 L1022.00 874.97 L1024.37 875.67 L1026.75 876.38 L1029.12 877.09 L1031.49 877.80 L1033.87 878.51 L1036.24 879.23 L1038.61 879.95 L1040.99 880.67 L1043.36 881.39 L1045.73 882.11 L1048.11 882.84 L1050.48 883.56 L1052.85 884.29 L1055.23 885.02 L1057.60 885.75 L1059.97 886.49 L1062.35 887.22 L1064.72 887.96 L1067.09 888.70 L1069.47 889.44 L1071.84 890.18 L1074.21 890.93 L1076.59 891.67 L1078.96 892.42 L1081.33 893.17 L1083.71 893.92 L1086.08 894.67 L1088.45 895.43 L1090.83 896.18 L1093.20 896.94 L1095.57 897.70 L1097.95 898.46 L1100.32 899.22 L1102.69 899.98 L1105.07 900.75 L1107.44 901.51 L1109.81 902.28 L1112.19 903.05 L1114.56 903.82 L1116.93 904.59 L1119.31 905.36 L1121.68 906.13 L1124.05 906.91 L1126.43 907.68 L1128.80 908.46 L1131.17 909.24 L1133.55 910.02 L1135.92 910.80 L1138.29 911.58 L1140.67 912.36 L1143.04 913.15 L1145.41 913.93 L1147.79 914.72 L1150.16 915.50 L1152.53 916.29 L1154.91 917.08 L1157.28 917.87 L1159.65 918.66 L1162.03 919.45 L1164.40 920.25 L1166.77 921.04 L1169.15 921.84 L1171.52 922.63 L1173.89 923.43 L1176.27 924.23 L1178.64 925.03 L1181.01 925.83 L1183.39 926.63 L1185.76 927.43 L1188.13 928.23 L1190.51 929.03 L1192.88 929.84 L1195.25 930.64 L1197.63 931.45 L1200.00 932.25 L1202.37 933.06 L1204.75 933.87 L1207.12 934.67 L1209.49 935.48 L1211.87 936.29 L1214.24 937.10 L1216.61 937.91 L1218.99 938.72 L1221.36 939.54 L1223.73 940.35 L1226.11 941.16 L1228.48 941.98 L1230.85 942.79 L1233.23 943.61 L1235.60 944.42 L1237.97 945.24 L1240.35 946.05 L1242.72 946.87 L1245.09 947.69 L1247.47 948.51 L1249.84 949.32 L1252.21 950.14 L1254.59 950.96 L1256.96 951.78 L1259.33 952.60 L1261.71 953.42 L1264.08 954.25 L1266.45 955.07 L1268.83 955.89 L1271.20 956.71 L1273.57 957.53 L1275.95 958.36 L1278.32 959.18 L1280.69 960.00 L1283.07 960.83 L1285.44 961.65 L1287.81 962.48 L1290.19 963.30 L1292.56 964.13 L1294.93 964.95 L1297.31 965.78 L1299.68 966.60 L1302.05 967.43 L1304.43 968.26 L1306.80 969.08 L1309.17 969.91 L1311.55 970.74 L1313.92 971.56 L1316.29 972.39 L1318.67 973.22 L1321.04 974.05 L1323.41 974.88 L1325.79 975.70 L1328.16 976.53 L1330.53 977.36 L1332.91 978.19 L1335.28 979.02 L1337.65 979.85 L1340.03 980.68 L1342.40 981.50 L1344.77 982.33 L1347.15 983.16 L1349.52 983.99 L1351.89 984.82 L1354.27 985.65 L1356.64 986.48 L1359.01 987.31 L1361.39 988.14 L1363.76 988.97 L1366.13 989.80 L1368.51 990.63 L1370.88 991.46 L1373.25 992.29 L1375.63 993.12 L1378.00 993.94 L1380.37 994.77 L1382.75 995.60 L1385.12 996.43 L1387.49 997.26 L1389.87 998.09 L1392.24 998.92 L1394.61 999.75 L1396.99 1000.58 L1399.36 1001.41 L1401.73 1002.24 L1404.11 1003.07 L1406.48 1003.90 L1408.85 1004.72 L1411.23 1005.55 L1413.60 1006.38 L1415.97 1007.21 L1418.35 1008.04 L1420.72 1008.87 L1423.09 1009.69 L1425.47 1010.52 L1427.84 1011.35 L1430.21 1012.18 L1432.59 1013.00 L1434.96 1013.83 L1437.33 1014.66 L1439.71 1015.49 L1442.08 1016.31 L1444.45 1017.14 L1446.83 1017.97 L1449.20 1018.79 L1451.57 1019.62 L1453.95 1020.44 L1456.32 1021.27 L1458.69 1022.09 L1461.07 1022.92 L1463.44 1023.74 L1465.81 1024.57 L1468.19 1025.39 L1470.56 1026.22 L1472.93 1027.04 L1475.31 1027.87 L1477.68 1028.69 L1480.05 1029.51 L1482.43 1030.34 L1484.80 1031.16 L1487.17 1031.98 L1489.55 1032.80 L1491.92 1033.62 L1494.29 1034.45 L1496.67 1035.27 L1499.04 1036.09 L1501.41 1036.91 L1503.79 1037.73 L1506.16 1038.55 L1508.53 1039.37 L1510.91 1040.19 L1513.28 1041.01 L1515.65 1041.83 L1518.03 1042.65 L1520.40 1043.47 L1522.77 1044.28 L1525.15 1045.10 L1527.52 1045.92 L1529.89 1046.74 L1532.27 1047.55 L1534.64 1048.37 L1537.01 1049.19 L1539.39 1050.00 L1541.76 1050.82 L1544.13 1051.63 L1546.51 1052.45 L1548.88 1053.26 L1551.25 1054.08 L1553.63 1054.89 L1556.00 1055.70 L1558.37 1056.52 L1560.75 1057.33 L1563.12 1058.14 L1565.49 1058.95 L1567.87 1059.76 L1570.24 1060.58 L1572.61 1061.39 L1574.99 1062.20 L1577.36 1063.01 L1579.73 1063.82 L1582.11 1064.63 L1584.48 1065.44 L1586.85 1066.24 L1589.23 1067.05 L1591.60 1067.86 L1593.97 1068.67 L1596.35 1069.47 L1598.72 1070.28 L1601.09 1071.09 L1603.47 1071.89 L1605.84 1072.70 L1608.21 1073.50 L1610.59 1074.31 L1612.96 1075.11 L1615.33 1075.91 L1617.71 1076.72 L1620.08 1077.52 L1622.45 1078.32 L1624.83 1079.12 L1627.20 1079.93 L1629.57 1080.73 L1631.95 1081.53 L1634.32 1082.33 L1636.69 1083.13 L1639.07 1083.93 L1641.44 1084.73 L1643.81 1085.52 L1646.19 1086.32 L1648.56 1087.12 L1650.93 1087.92 L1653.31 1088.71 L1655.68 1089.51 L1658.05 1090.31 L1660.43 1091.10 L1662.80 1091.90 L1665.17 1092.69 L1667.55 1093.48 L1669.92 1094.28 L1672.29 1095.07 L1674.67 1095.86 L1677.04 1096.66 L1679.41 1097.45 L1681.79 1098.24 L1684.16 1099.03 L1686.53 1099.82 L1688.91 1100.61 L1691.28 1101.40 L1693.65 1102.19 L1696.03 1102.98 L1698.40 1103.76 L1700.77 1104.55 L1703.15 1105.34 L1705.52 1106.13 L1707.89 1106.91 L1710.27 1107.70 L1712.64 1108.48 L1715.01 1109.27 L1717.39 1110.05 L1719.76 1110.83 L1722.13 1111.62 L1724.51 1112.40 L1726.88 1113.18 L1729.25 1113.96 L1731.63 1114.75 L1734.00 1115.53 L1736.37 1116.31 L1738.75 1117.09 L1741.12 1117.87 L1743.49 1118.64 L1745.87 1119.42 L1748.24 1120.20 L1750.61 1120.98 L1752.99 1121.75 L1755.36 1122.53 L1757.73 1123.31 L1760.11 1124.08 L1762.48 1124.86 L1764.85 1125.63 L1767.23 1126.41 L1769.60 1127.18 L1771.97 1127.95 L1774.35 1128.72 L1776.72 1129.50 L1779.09 1130.27 L1781.47 1131.04 L1783.84 1131.81 L1786.21 1132.58 L1788.59 1133.35 L1790.96 1134.12 L1793.33 1134.89 L1795.71 1135.65 L1798.08 1136.42 L1800.45 1137.19 L1802.83 1137.95 L1805.20 1138.72 L1807.57 1139.48 L1809.95 1140.25 L1812.32 1141.01 L1814.69 1141.78 L1817.07 1142.54 L1819.44 1143.30 L1821.81 1144.07 L1824.19 1144.83 L1826.56 1145.59 L1828.93 1146.35 L1831.31 1147.11 L1833.68 1147.87 L1836.05 1148.63 L1838.43 1149.39 L1840.80 1150.15 L1843.17 1150.90 L1845.55 1151.66 L1847.92 1152.42 L1850.29 1153.17 L1852.67 1153.93 L1855.04 1154.69 L1857.41 1155.44 L1859.79 1156.19 L1862.16 1156.95 L1864.53 1157.70 L1866.91 1158.45 L1869.28 1159.21 L1871.65 1159.96 L1874.03 1160.71 L1876.40 1161.46 L1878.77 1162.21 L1881.15 1162.96 L1883.52 1163.71 L1885.89 1164.46 L1888.27 1165.20 L1890.64 1165.95 L1893.01 1166.70 L1895.39 1167.44 L1897.76 1168.19 L1900.13 1168.94 L1902.51 1169.68 L1904.88 1170.43 L1907.25 1171.17 L1909.63 1171.91 L1912.00 1172.66 L1914.37 1173.40 L1916.75 1174.14 L1919.12 1174.88 L1921.49 1175.62 L1923.87 1176.36 L1926.24 1177.10 L1928.61 1177.84 L1930.99 1178.58 L1933.36 1179.32 L1935.73 1180.06 L1938.11 1180.79 L1940.48 1181.53 L1942.85 1182.27 L1945.23 1183.00 L1947.60 1183.74 L1949.97 1184.47 L1952.35 1185.21 L1954.72 1185.94 L1957.09 1186.67 L1959.47 1187.40 L1961.84 1188.14 L1964.21 1188.87 L1966.59 1189.60 L1968.96 1190.33 L1971.33 1191.06 L1973.71 1191.79 L1976.08 1192.52 L1978.45 1193.25 L1980.83 1193.97 L1983.20 1194.70 L1985.57 1195.43 L1987.95 1196.16 L1990.32 1196.88 L1992.69 1197.61 L1995.07 1198.33 L1997.44 1199.06 L1999.81 1199.78 L2002.19 1200.50 L2004.56 1201.23 L2006.93 1201.95 L2009.31 1202.67 L2011.68 1203.39 L2014.05 1204.11 L2016.43 1204.83 L2018.80 1205.55 L2021.17 1206.27 L2023.55 1206.99 L2025.92 1207.71 L2028.29 1208.43 L2030.67 1209.14 L2033.04 1209.86 L2035.41 1210.58 L2037.79 1211.29 L2040.16 1212.01 L2042.53 1212.72 L2044.91 1213.44 L2047.28 1214.15 L2049.65 1214.86 L2052.03 1215.58 L2054.40 1216.29 L2056.77 1217.00 L2059.15 1217.71 L2061.52 1218.42 L2063.89 1219.13 L2066.27 1219.84 L2068.64 1220.55 L2071.01 1221.26 L2073.39 1221.97 L2075.76 1222.68 L2078.13 1223.38 L2080.51 1224.09 L2082.88 1224.80 L2085.25 1225.50 L2087.63 1226.21 L2090.00 1226.91" stroke="#FF9400"/>
<path d="M310.00 670.93 L807.87 670.93 L815.82 679.31 L823.78 687.65 L831.73 695.96 L839.69 704.23 L847.64 712.45 L855.60 720.64 L863.56 728.80 L871.51 736.91 L879.47 744.99 L887.42 753.03 L895.38 761.04 L903.33 769.01 L923.11 778.88 L942.89 788.64 L962.67 798.30 L982.44 807.85 L1002.22 817.31 L1022.00 826.66 L1041.78 835.92 L1061.56 845.08 L1081.33 854.15 L1101.11 863.13 L1120.89 872.01 L1140.67 880.81 L1160.44 889.53 L1180.22 898.16 L1200.00 906.71 L1219.78 915.17 L1239.56 923.56 L1259.33 931.87 L1279.11 940.10 L1298.89 948.26 L1318.67 956.35 L1338.44 964.36 L1358.22 972.30 L1378.00 980.17 L1397.78 987.97 L1417.56 995.70 L1437.33 1003.37 L1457.11 1010.97 L1476.89 1018.51 L1496.67 1025.99 L1516.44 1033.40 L1536.22 1040.75 L1556.00 1048.04 L1575.78 1055.28 L1595.56 1062.45 L1615.33 1069.57 L1635.11 1076.63 L1654.89 1083.64 L1674.67 1090.59 L1694.44 1097.49 L1714.22 1104.33 L1734.00 1111.12 L1753.78 1117.87 L1773.56 1124.56 L1793.33 1131.20 L1813.11 1137.79 L1832.89 1144.34 L1852.67 1150.83 L1872.44 1157.28 L1892.22 1163.69 L1912.00 1170.04 L1931.78 1176.36 L1951.56 1182.62 L1971.33 1188.85 L1991.11 1195.03 L2010.89 1201.17 L2030.67 1207.27 L2050.44 1213.32 L2070.22 1219.34 L2090.00 1225.31" stroke="#000" stroke-width="10" stroke-linecap="round" stroke-dasharray="17.5 17.75"/>
</g>
<g font-family="'Liberation Serif', 'DejaVu Serif', serif" font-size="74.5" fill="#000" filter="url(#bin)">
<text x="239" y="157.20" text-anchor="end">3</text>
<text x="239" y="368.10" text-anchor="end">2</text>
<text x="239" y="579.00" text-anchor="end">1</text>
<text x="239" y="789.90" text-anchor="end">0</text>
<text x="239" y="1000.80" text-anchor="end">-1</text>
<text x="239" y="1211.70" text-anchor="end">-2</text>
<text x="311.00" y="1315" text-anchor="middle">0.2</text>
<text x="904.33" y="1315" text-anchor="middle">0.3</text>
<text x="1497.67" y="1315" text-anchor="middle">0.4</text>
<text x="2091.00" y="1315" text-anchor="middle">0.5</text>
<text x="1218.1" y="1432.3" text-anchor="middle" textLength="660.8" lengthAdjust="spacingAndGlyphs">Radial Distance <tspan font-style="italic">r</tspan> [m]</text>
<text transform="translate(125.5 663) rotate(-90)" x="0" y="0" text-anchor="middle" textLength="359.4" lengthAdjust="spacingAndGlyphs"><tspan font-style="italic">T</tspan> (<tspan font-style="italic">r</tspan>, <tspan font-style="italic">φ</tspan>) [°C]</text>
</g>
<g font-family="'Liberation Serif', 'DejaVu Serif', serif" font-size="74" font-style="italic" fill="#000">
<line x1="1105.3" x2="1179.0" y1="190.0" y2="190.0" stroke="#FF0000" stroke-width="10" stroke-linecap="round" shape-rendering="crispEdges"/>
<line x1="1641.0" x2="1715.0" y1="190.0" y2="190.0" stroke="#3333FF" stroke-width="10" stroke-linecap="round" shape-rendering="crispEdges"/>
<line x1="1105.3" x2="1179.0" y1="295.0" y2="295.0" stroke="#00B050" stroke-width="10" stroke-linecap="round" shape-rendering="crispEdges"/>
<line x1="1641.0" x2="1715.0" y1="295.0" y2="295.0" stroke="#FF9400" stroke-width="10" stroke-linecap="round" shape-rendering="crispEdges"/>
<line x1="1105.3" x2="1179.0" y1="399.9" y2="399.9" stroke="#000" stroke-width="10" stroke-linecap="round" shape-rendering="crispEdges" stroke-dasharray="17.5 17.75"/>
<g filter="url(#bin)">
<text x="1188.47" y="216.70" textLength="37.69" lengthAdjust="spacingAndGlyphs">φ</text>
<text x="1247.04" y="211.06" textLength="44.70" lengthAdjust="spacingAndGlyphs" font-style="normal" font-size="53.2">=</text>
<text x="1310.25" y="216.70" textLength="35.66" lengthAdjust="spacingAndGlyphs">0</text>
<text x="1724.47" y="216.70" textLength="37.69" lengthAdjust="spacingAndGlyphs">φ</text>
<text x="1783.14" y="211.06" textLength="44.70" lengthAdjust="spacingAndGlyphs" font-style="normal" font-size="53.2">=</text>
<text x="1845.51" y="216.70" textLength="139.86" lengthAdjust="spacingAndGlyphs">π/5N</text>
<text x="1188.47" y="320.80" textLength="37.69" lengthAdjust="spacingAndGlyphs">φ</text>
<text x="1247.04" y="315.16" textLength="44.70" lengthAdjust="spacingAndGlyphs" font-style="normal" font-size="53.2">=</text>
<text x="1312.00" y="320.80" textLength="172.52" lengthAdjust="spacingAndGlyphs">3π/5N</text>
<text x="1724.47" y="320.80" textLength="37.69" lengthAdjust="spacingAndGlyphs">φ</text>
<text x="1783.14" y="315.16" textLength="44.70" lengthAdjust="spacingAndGlyphs" font-style="normal" font-size="53.2">=</text>
<text x="1845.51" y="320.80" textLength="104.05" lengthAdjust="spacingAndGlyphs">π/N</text>
<text x="1188.30" y="422.10" textLength="234.30" lengthAdjust="spacingAndGlyphs">Average</text>
</g>
</g>
<rect x="39.9" y="70.9" width="2148.2" height="1403.2" fill="none" stroke="#000" stroke-width="3.8"/>
</svg></body></html>
